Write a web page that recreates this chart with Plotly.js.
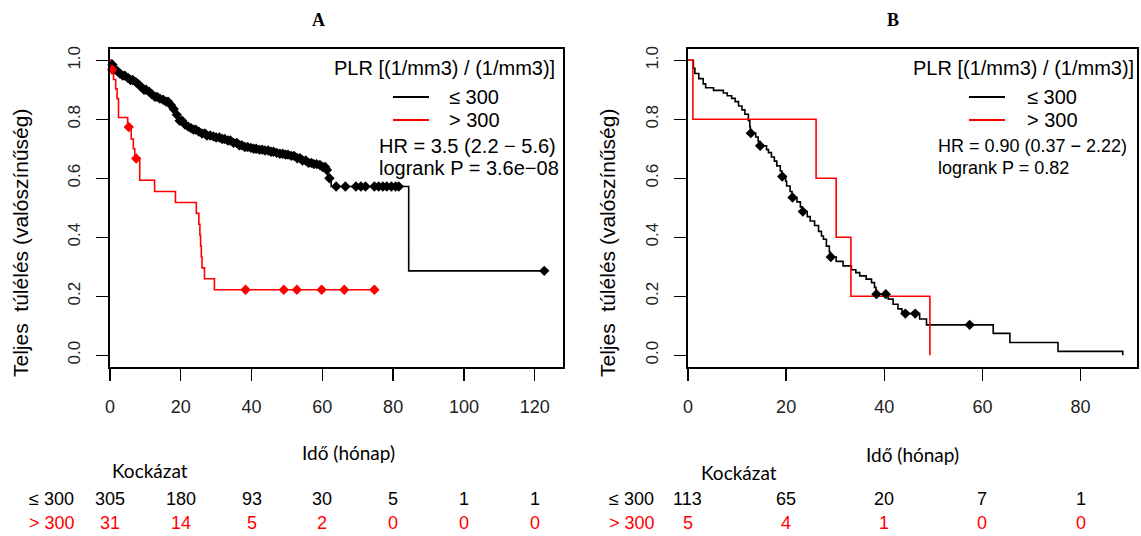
<!DOCTYPE html>
<html>
<head>
<meta charset="utf-8">
<script src="https://cdn.plot.ly/plotly-3.0.1.min.js"></script>
<style>html,body{margin:0;padding:0;background:#fff}#chart{width:1141px;height:536px}</style>
</head>
<body>
<div id="chart"></div>
<script>
// ---------- Data ----------
// Panel A, PLR <= 300 : Kaplan-Meier steps
const aLowTime = [0,0.5,1.0,1.5,2.5,3.5,4.5,5.5,6.5,7.5,8.5,9.5,10.5,11.5,12.5,13.5,14.5,15.5,16.5,17.5,18.5,19.5,20.5,21.5,22.5,23.5,24.5,25.5,27,28.5,30,31.5,33,34.5,36,37.5,39,40.5,42,43.5,45,46.5,48,49.5,51,52.5,54,55.5,57,58.5,60,61,61.5,62.5,84.4,122.7];
const aLowSurv = [1,0.985,0.97,0.963,0.955,0.948,0.94,0.933,0.926,0.918,0.91,0.90,0.893,0.885,0.876,0.87,0.866,0.86,0.848,0.835,0.815,0.795,0.782,0.775,0.77,0.765,0.758,0.752,0.745,0.742,0.738,0.733,0.728,0.72,0.712,0.706,0.703,0.70,0.697,0.694,0.69,0.686,0.683,0.68,0.676,0.668,0.66,0.652,0.648,0.645,0.638,0.628,0.60,0.572,0.286,0.286];
const aLowCensor = [0.7,1.3,2.1,2.8,3.6,4.2,5.1,5.8,6.4,7.3,8.1,8.8,9.6,10.2,11.1,11.8,12.7,13.3,14.1,15.0,15.8,16.4,17.2,18.0,18.9,19.7,20.4,21.2,22.1,22.9,23.6,24.2,25.1,26.0,26.8,27.4,28.3,29.2,30.0,30.9,31.7,32.4,33.3,34.0,34.9,35.8,36.5,37.2,38.1,38.9,39.8,40.6,41.3,42.2,43.0,43.8,44.7,45.5,46.2,47.1,48.0,48.8,49.6,50.3,51.2,52.0,52.9,53.7,54.4,55.3,56.1,56.9,57.6,58.4,59.3,60.1,60.8,61.3,62.0,63.9,66.5,69.5,70.9,72.2,74.7,75.9,77.1,78.2,79.5,80.7,81.6,122.7];
// Panel A, PLR > 300
const aHighTime = [0,0.3,1.0,1.6,2.0,2.4,5.0,6.0,6.6,7.0,8.4,12.6,18.5,24.4,25.1,25.4,25.6,25.8,26.0,26.7,29.5,74.7];
const aHighSurv = [1,0.968,0.935,0.903,0.87,0.806,0.774,0.733,0.70,0.667,0.593,0.555,0.518,0.481,0.444,0.407,0.37,0.333,0.296,0.259,0.222,0.222];
const aHighCensor = [0.6,5.3,7.4,38.3,49.1,52.8,59.8,66.2,74.7];

// Panel B, PLR <= 300
const bLowTime = [0,1.1,1.4,2.2,3.1,3.6,5.2,7.2,8.0,8.9,9.6,10.3,11.0,11.6,12.3,12.6,12.7,13.8,14.3,14.6,16.0,16.4,17.0,17.6,18.1,18.8,19.1,19.9,20.1,20.8,21.2,22.2,22.9,23.3,24.3,24.9,25.8,26.6,27.2,27.6,28.2,28.8,29.0,30.2,31.6,33.3,34.2,35.0,36.3,37.4,38.0,38.3,40.8,41.8,42.8,43.6,47.2,48.6,62.2,65.6,75.4,88.6];
const bLowSurv = [1,0.973,0.955,0.938,0.92,0.907,0.898,0.889,0.88,0.871,0.86,0.845,0.832,0.817,0.795,0.775,0.753,0.74,0.725,0.71,0.697,0.687,0.672,0.658,0.642,0.625,0.606,0.59,0.574,0.555,0.535,0.52,0.503,0.487,0.47,0.455,0.44,0.42,0.404,0.393,0.37,0.35,0.333,0.318,0.303,0.29,0.28,0.269,0.258,0.246,0.23,0.207,0.19,0.173,0.157,0.141,0.123,0.103,0.074,0.043,0.013,0.0];
const bLowCensor = [12.8,14.7,19.2,21.3,23.4,29.1,38.4,40.3,44.3,46.3,57.4];
// Panel B, PLR > 300
const bHighTime = [0,1.0,26.1,30.2,33.2,49.3];
const bHighSurv = [1,0.8,0.6,0.4,0.2,0.0];

// Risk tables
const riskTimesA = [0,20,40,60,80,100,120];
const riskLowA = [305,180,93,30,5,1,1];
const riskHighA = [31,14,5,2,0,0,0];
const riskTimesB = [0,20,40,60,80];
const riskLowB = [113,65,20,7,1];
const riskHighB = [5,4,1,0,0];

const groupLabels = ['≤ 300','> 300'];
const yTicks = [0,0.2,0.4,0.6,0.8,1.0];
const yTickText = ['0.0','0.2','0.4','0.6','0.8','1.0'];
const xTicksA = [0,20,40,60,80,100,120];
const xTicksB = [0,20,40,60,80];

// ---------- Helpers ----------
const W = 1141, H = 536;
const px = v => v / W;
const py = v => 1 - v / H;
function stepAt(times, surv, t){
  let s = surv[0];
  for (let i = 0; i < times.length; i++){ if (times[i] <= t) s = surv[i]; }
  return s;
}
const BLACK = '#000000', RED = '#ff0000';
const SANS = 'Liberation Sans, Arial, sans-serif';
const CAL = 'Lato, Open Sans, sans-serif';

function lineTrace(t, s, color, xa, ya){
  return {x:t, y:s, type:'scatter', mode:'lines', line:{shape:'hv', color:color, width:1.6},
    xaxis:xa, yaxis:ya, hoverinfo:'skip', showlegend:false};
}
function censorTrace(ct, t, s, color, xa, ya){
  return {x:ct, y:ct.map(c => stepAt(t, s, c)), type:'scatter', mode:'markers',
    marker:{symbol:'diamond', size:8, color:color}, xaxis:xa, yaxis:ya, hoverinfo:'skip', showlegend:false, cliponaxis:false};
}

const data = [
  lineTrace(aLowTime, aLowSurv, BLACK, 'x', 'y'),
  lineTrace(aHighTime, aHighSurv, RED, 'x', 'y'),
  censorTrace(aLowCensor, aLowTime, aLowSurv, BLACK, 'x', 'y'),
  censorTrace(aHighCensor, aHighTime, aHighSurv, RED, 'x', 'y'),
  lineTrace(bLowTime, bLowSurv, BLACK, 'x2', 'y2'),
  lineTrace(bHighTime, bHighSurv, RED, 'x2', 'y2'),
  censorTrace(bLowCensor, bLowTime, bLowSurv, BLACK, 'x2', 'y2')
];

function xAxis(domain, range, ticks, anchor){
  return {domain:domain, range:range, anchor:anchor, tickvals:ticks, ticktext:ticks.map(String),
    showgrid:false, zeroline:false, showline:true, mirror:true, linecolor:'#000', linewidth:1.6,
    ticks:'outside', ticklen:12, tickwidth:1.4, tickcolor:'#000', ticklabelstandoff:11,
    tickfont:{family:SANS, size:18, color:'#222'}, automargin:false, fixedrange:true};
}
function yAxis(anchor){
  return {domain:[1-367/H, 1-48.5/H], range:[-0.04,1.04], anchor:anchor, tickvals:yTicks, ticktext:yTickText,
    tickangle:-90, showgrid:false, zeroline:false, showline:true, mirror:true, linecolor:'#000', linewidth:1.6,
    ticks:'outside', ticklen:12, tickwidth:1.4, tickcolor:'#000', ticklabelstandoff:10,
    tickfont:{family:SANS, size:17, color:'#222'}, automargin:false, fixedrange:true};
}

const ann = [];
function A(text, x, y, opts){ ann.push(Object.assign({text:text, x:px(x), y:py(y), xref:'paper', yref:'paper', showarrow:false,
  xanchor:'center', yanchor:'middle', font:{family:SANS, size:20, color:'#000'}}, opts||{})); }

// panel titles
A('<b>A</b>', 318, 20, {font:{family:'Liberation Serif, serif', size:18, color:'#000'}});
A('<b>B</b>', 893, 20, {font:{family:'Liberation Serif, serif', size:18, color:'#000'}});
// y titles
A('Teljes  túlélés (valószínűség)', 20, 243, {textangle:-90, font:{family:SANS, size:21, color:'#000'}});
A('Teljes  túlélés (valószínűség)', 607, 243, {textangle:-90, font:{family:SANS, size:21, color:'#000'}});
// x titles & risk header
A('Idő (hónap)', 348, 452, {font:{family:CAL, size:19, color:'#000'}});
A('Idő (hónap)', 912, 454, {font:{family:CAL, size:19, color:'#000'}});
A('Kockázat', 150, 470, {font:{family:CAL, size:19, color:'#000'}});
A('Kockázat', 739, 472, {font:{family:CAL, size:19, color:'#000'}});

// legends
const shapes = [];
function legendBlock(rightX, lineX0, lineX1, textX, statX, statSize, hr, p){
  A('PLR [(1/mm3) / (1/mm3)]', rightX, 68, {xanchor:'right'});
  A(groupLabels[0], textX, 97, {xanchor:'left'});
  A(groupLabels[1], textX, 120, {xanchor:'left'});
  A(hr, statX, 146, {xanchor:'left', font:{family:SANS, size:statSize, color:'#000'}});
  A(p, statX, 168, {xanchor:'left', font:{family:SANS, size:statSize, color:'#000'}});
  shapes.push({type:'line', xref:'paper', yref:'paper', x0:px(lineX0), x1:px(lineX1), y0:py(97), y1:py(97), line:{color:BLACK, width:1.8}});
  shapes.push({type:'line', xref:'paper', yref:'paper', x0:px(lineX0), x1:px(lineX1), y0:py(120), y1:py(120), line:{color:RED, width:1.8}});
}
legendBlock(557, 393, 429, 447, 377, 20, 'HR = 3.5 (2.2 − 5.6)', 'logrank P = 3.6e−08');
legendBlock(1136, 969, 1005, 1025, 936, 18, 'HR = 0.90 (0.37 − 2.22)', 'logrank P = 0.82');

// risk tables
const rowY = [499, 523];
[[27, riskTimesA, riskLowA, riskHighA, 'x'], [607, riskTimesB, riskLowB, riskHighB, 'x2']].forEach(cfg => {
  const [lx, times, low, high, xr] = cfg;
  A(groupLabels[0], lx, rowY[0], {xanchor:'left', font:{family:SANS, size:18, color:'#000'}});
  A(groupLabels[1], lx, rowY[1], {xanchor:'left', font:{family:SANS, size:18, color:RED}});
  times.forEach((t, i) => {
    ann.push({text:String(low[i]), x:t, xref:xr, y:py(rowY[0]), yref:'paper', showarrow:false, xanchor:'center', yanchor:'middle',
      font:{family:SANS, size:18, color:'#000'}});
    ann.push({text:String(high[i]), x:t, xref:xr, y:py(rowY[1]), yref:'paper', showarrow:false, xanchor:'center', yanchor:'middle',
      font:{family:SANS, size:18, color:RED}});
  });
});

const layout = {
  width:W, height:H, margin:{l:0, r:0, t:0, b:0}, paper_bgcolor:'#fff', plot_bgcolor:'#fff', showlegend:false,
  xaxis: xAxis([110/W, 563/W], [0,128], xTicksA, 'y'),
  yaxis: yAxis('x'),
  xaxis2: xAxis([688/W, 1137/W], [0,91.5], xTicksB, 'y2'),
  yaxis2: yAxis('x2'),
  annotations: ann, shapes: shapes
};
Plotly.newPlot('chart', data, layout, {staticPlot:true, displayModeBar:false});
</script>
</body>
</html>
